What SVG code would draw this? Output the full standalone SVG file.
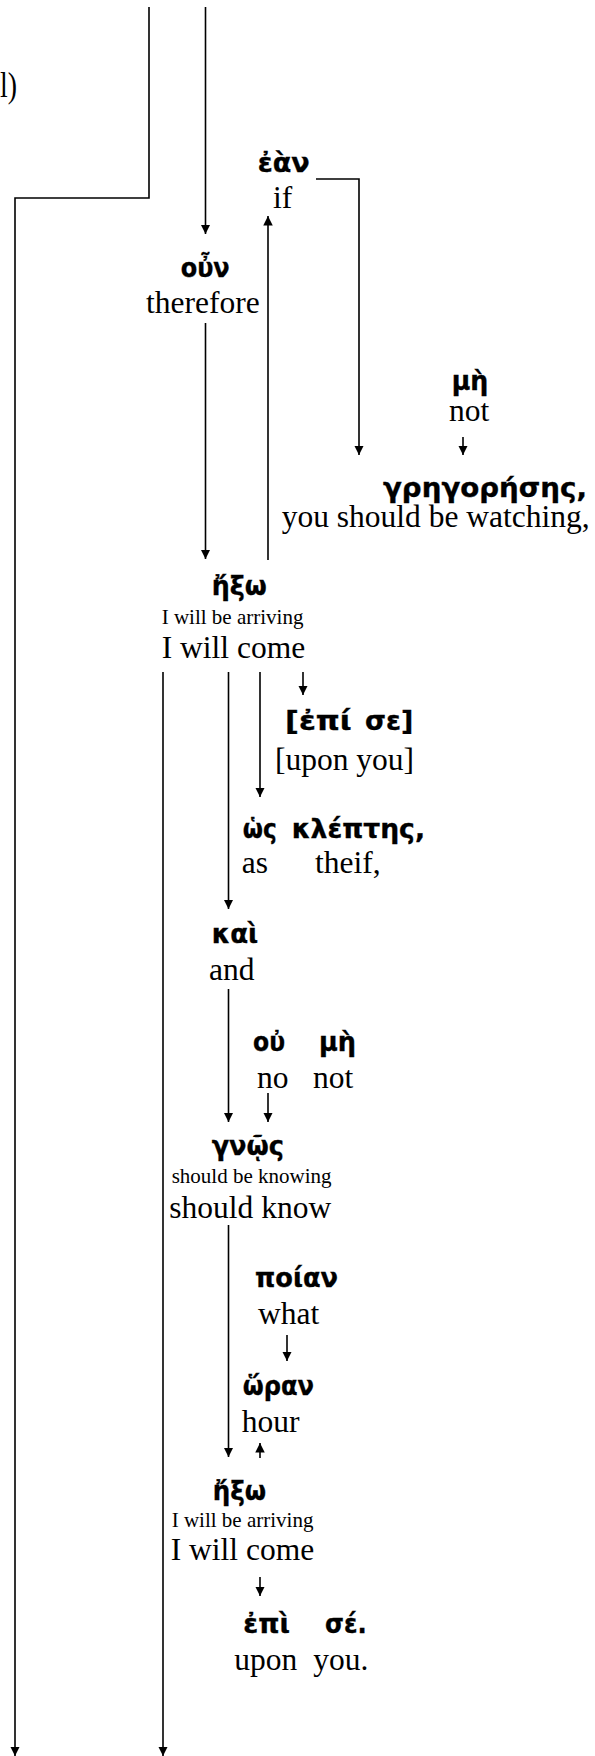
<svg xmlns="http://www.w3.org/2000/svg" width="595" height="1756" viewBox="0 0 595 1756">
<style>
.gk{font-family:"DejaVu Sans","Noto Sans",sans-serif;font-weight:bold;font-size:26px;fill:#000;stroke:#000;stroke-width:0.35}
.en{font-family:"Liberation Serif","Times New Roman",serif;font-size:31.5px;fill:#000}
.sm{font-size:21px}
.ln{fill:none;stroke:#000;stroke-width:1.6}
.ar{marker-end:url(#ah)}
</style>
<defs>
<marker id="ah" viewBox="0 0 10 10" refX="10" refY="5" markerUnits="userSpaceOnUse" markerWidth="9.5" markerHeight="9.5" orient="auto">
<path d="M0,0 L10,5 L0,10 z" fill="#000"/>
</marker>
</defs>
<rect width="595" height="1756" fill="#fff"/>
<g id="connectors">
<polyline class="ln ar" points="149,7 149,198 15,198 15,1756"/>
<line class="ln ar" x1="205.5" y1="7" x2="205.5" y2="234"/>
<line class="ln ar" x1="268" y1="560" x2="268" y2="216"/>
<polyline class="ln ar" points="316,179 359,179 359,455"/>
<line class="ln ar" x1="463" y1="437" x2="463" y2="455"/>
<line class="ln ar" x1="205.5" y1="323" x2="205.5" y2="559"/>
<line class="ln ar" x1="163" y1="672" x2="163" y2="1756"/>
<line class="ln ar" x1="228.5" y1="672" x2="228.5" y2="909"/>
<line class="ln ar" x1="260" y1="672" x2="260" y2="797"/>
<line class="ln ar" x1="303" y1="672" x2="303" y2="695"/>
<line class="ln ar" x1="228.5" y1="989" x2="228.5" y2="1122"/>
<line class="ln ar" x1="268" y1="1093" x2="268" y2="1122"/>
<line class="ln ar" x1="228.5" y1="1225" x2="228.5" y2="1457"/>
<line class="ln ar" x1="287" y1="1335" x2="287" y2="1361"/>
<line class="ln ar" x1="260" y1="1458" x2="260" y2="1443"/>
<line class="ln ar" x1="260" y1="1577" x2="260" y2="1596"/>
</g>
<g id="n-cont">
<text class="en" x="0" y="97" style="font-size:36px" textLength="17" lengthAdjust="spacingAndGlyphs">l)</text>
</g>
<g id="n-ean">
<text class="gk" x="257.7" y="171.7" textLength="52" lengthAdjust="spacingAndGlyphs">ἐὰν</text>
<text class="en" x="273" y="207.7">if</text>
</g>
<g id="n-oun">
<text class="gk" x="180.7" y="276.7" textLength="49" lengthAdjust="spacingAndGlyphs">οὖν</text>
<text class="en" x="146" y="313">therefore</text>
</g>
<g id="n-me1">
<text class="gk" x="451.7" y="390" textLength="36.6" lengthAdjust="spacingAndGlyphs">μὴ</text>
<text class="en" x="449" y="421">not</text>
</g>
<g id="n-gregoreses">
<text class="gk" x="383" y="497" textLength="204" lengthAdjust="spacingAndGlyphs">γρηγορήσης,</text>
<text class="en" x="281.7" y="526.7">you should be watching,</text>
</g>
<g id="n-hexo1">
<text class="gk" x="211.7" y="595" textLength="55" lengthAdjust="spacingAndGlyphs">ἤξω</text>
<text class="en sm" x="161.7" y="624">I will be arriving</text>
<text class="en" x="161.7" y="658">I will come</text>
</g>
<g id="n-epi-se1">
<text class="gk" x="285" y="730" textLength="66.7" lengthAdjust="spacingAndGlyphs">[ἐπί</text>
<text class="gk" x="365" y="730" textLength="48.3" lengthAdjust="spacingAndGlyphs">σε]</text>
<text class="en" x="275" y="770">[upon you]</text>
</g>
<g id="n-hos-kleptes">
<text class="gk" x="242.7" y="838" textLength="34" lengthAdjust="spacingAndGlyphs">ὡς</text>
<text class="gk" x="291.7" y="838" textLength="133.3" lengthAdjust="spacingAndGlyphs">κλέπτης,</text>
<text class="en" x="241.7" y="873">as</text>
<text class="en" x="315" y="873">theif,</text>
</g>
<g id="n-kai">
<text class="gk" x="211.7" y="942.7" textLength="46.6" lengthAdjust="spacingAndGlyphs">καὶ</text>
<text class="en" x="209" y="980">and</text>
</g>
<g id="n-ou-me">
<text class="gk" x="253" y="1050.7" textLength="32" lengthAdjust="spacingAndGlyphs">οὐ</text>
<text class="gk" x="319" y="1050.7" textLength="37" lengthAdjust="spacingAndGlyphs">μὴ</text>
<text class="en" x="257" y="1087.7">no</text>
<text class="en" x="313" y="1087.7">not</text>
</g>
<g id="n-gnos">
<text class="gk" x="211.7" y="1155" textLength="72.3" lengthAdjust="spacingAndGlyphs">γνῷς</text>
<text class="en sm" x="171.7" y="1183">should be knowing</text>
<text class="en" x="169.3" y="1218.3">should know</text>
</g>
<g id="n-poian">
<text class="gk" x="255" y="1286.7" textLength="83" lengthAdjust="spacingAndGlyphs">ποίαν</text>
<text class="en" x="258" y="1324">what</text>
</g>
<g id="n-horan">
<text class="gk" x="242.7" y="1395" textLength="71.3" lengthAdjust="spacingAndGlyphs">ὥραν</text>
<text class="en" x="241.7" y="1431.7">hour</text>
</g>
<g id="n-hexo2">
<text class="gk" x="212.7" y="1500" textLength="53.3" lengthAdjust="spacingAndGlyphs">ἤξω</text>
<text class="en sm" x="171.7" y="1527">I will be arriving</text>
<text class="en" x="170.7" y="1560">I will come</text>
</g>
<g id="n-epi-se2">
<text class="gk" x="243.3" y="1633.3" textLength="46.7" lengthAdjust="spacingAndGlyphs">ἐπὶ</text>
<text class="gk" x="325" y="1633.3" textLength="41.7" lengthAdjust="spacingAndGlyphs">σέ.</text>
<text class="en" x="234.3" y="1670">upon</text>
<text class="en" x="313.3" y="1670">you.</text>
</g>
</svg>
